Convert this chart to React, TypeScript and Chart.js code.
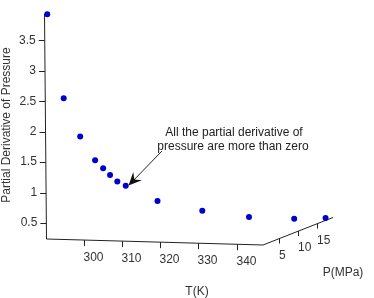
import { useEffect, useRef } from 'react';
import { Chart, registerables } from 'chart.js';

Chart.register(...registerables);

// Projected temperature position (K) of each point along the T axis
const tProjected = [290.5, 294.8, 299.1, 303.0, 305.1, 306.9, 308.8, 311.0, 319.3, 331.0, 343.2, 355.0, 363.2];
// Partial derivative of pressure
const derivative = [3.93, 2.55, 1.92, 1.53, 1.40, 1.29, 1.18, 1.11, 0.86, 0.70, 0.60, 0.57, 0.58];
const yTicks = [0.5, 1, 1.5, 2, 2.5, 3, 3.5];
const tTicks = [300, 310, 320, 330, 340];
const pTicks = [5, 10, 15];
const yTitle = 'Partial Derivative of Pressure';
const tTitle = 'T(K)';
const pTitle = 'P(MPa)';
const noteLines = ['All the partial derivative of', 'pressure are more than zero'];

const FONT = '12px "Liberation Sans", Arial, sans-serif';

const axesPlugin = {
  id: 'axes3d',
  beforeDatasetsDraw(chart: any) {
    const { ctx, chartArea, scales } = chart;
    const xs = scales.x;
    const ys = scales.y;
    const top = chartArea.top;
    const bottom = chartArea.bottom;
    const axTop = 44.5;
    const axBot = 46.5;
    const tEndX = 263;
    const tEndY = 245;
    const pEndX = 333;
    const pEndY = 217.5;
    const tLineY = (x: number) => bottom + (x - axBot) * ((tEndY - bottom) / (tEndX - axBot));
    const pLineY = (x: number) => tEndY + (x - tEndX) * ((pEndY - tEndY) / (pEndX - tEndX));
    ctx.save();
    ctx.strokeStyle = '#222';
    ctx.lineWidth = 1;
    ctx.beginPath();
    ctx.moveTo(axTop, top);
    ctx.lineTo(axBot, bottom);
    ctx.lineTo(tEndX, tEndY);
    ctx.lineTo(pEndX, pEndY);
    ctx.stroke();

    ctx.font = FONT;
    ctx.fillStyle = '#333';
    // y ticks
    ctx.textAlign = 'right';
    ctx.textBaseline = 'middle';
    yTicks.forEach((v) => {
      const py = ys.getPixelForValue(v);
      const ax = axTop + ((py - top) / (bottom - top)) * (axBot - axTop);
      ctx.beginPath();
      ctx.moveTo(ax - 6, Math.round(py) + 0.5);
      ctx.lineTo(ax, Math.round(py) + 0.5);
      ctx.stroke();
      ctx.fillText(String(v), ax - 9, py);
    });
    // T ticks
    ctx.textAlign = 'left';
    tTicks.forEach((t) => {
      const px = Math.round(xs.getPixelForValue(t)) + 0.5;
      const ly = tLineY(px);
      ctx.beginPath();
      ctx.moveTo(px, ly);
      ctx.lineTo(px, ly + 6);
      ctx.stroke();
      ctx.fillText(String(t), px - 1, ly + 17.5);
    });
    // P ticks
    pTicks.forEach((p) => {
      const px = Math.round(260 + 3.8 * p) + 0.5;
      const ly = pLineY(px);
      ctx.beginPath();
      ctx.moveTo(px, ly);
      ctx.lineTo(px, ly + 5);
      ctx.stroke();
      ctx.fillText(String(p), px - 0.5, ly + 17);
    });
    // titles
    ctx.textAlign = 'center';
    ctx.fillText(tTitle, 197, 292);
    ctx.fillText(pTitle, 343, 273);
    ctx.save();
    ctx.translate(7, 125);
    ctx.rotate(-Math.PI / 2);
    ctx.fillText(yTitle, 0, 0);
    ctx.restore();
    // note
    ctx.fillStyle = '#222';
    ctx.fillText(noteLines[0], 234, 133);
    ctx.fillText(noteLines[1], 233, 147);
    ctx.restore();
  },
  afterDatasetsDraw(chart: any) {
    const { ctx } = chart;
    const x0 = 162, y0 = 151, x1 = 128.5, y1 = 185.5;
    const ang = Math.atan2(y1 - y0, x1 - x0);
    ctx.save();
    ctx.strokeStyle = '#222';
    ctx.fillStyle = '#111';
    ctx.lineWidth = 1;
    ctx.beginPath();
    ctx.moveTo(x0, y0);
    ctx.lineTo(x1 + 7 * Math.cos(ang + Math.PI), y1 + 7 * Math.sin(ang + Math.PI));
    ctx.stroke();
    const L = 13, W = 6;
    const bx = x1 - L * Math.cos(ang), by = y1 - L * Math.sin(ang);
    const nx = -Math.sin(ang), ny = Math.cos(ang);
    const mx = x1 - 0.65 * L * Math.cos(ang), my = y1 - 0.65 * L * Math.sin(ang);
    ctx.beginPath();
    ctx.moveTo(x1, y1);
    ctx.lineTo(bx + nx * W, by + ny * W);
    ctx.lineTo(mx, my);
    ctx.lineTo(bx - nx * W, by - ny * W);
    ctx.closePath();
    ctx.fill();
    ctx.restore();
  },
};

export default function App() {
  const ref = useRef<HTMLCanvasElement>(null);
  useEffect(() => {
    if (!ref.current) return;
    const chart = new Chart(ref.current, {
      type: 'scatter',
      data: {
        datasets: [
          {
            data: tProjected.map((t, i) => ({ x: t, y: derivative[i] })),
            backgroundColor: '#0000CD',
            borderColor: '#0000CD',
            pointRadius: 3,
            pointBorderWidth: 0,
            clip: false as any,
          },
        ],
      },
      options: {
        responsive: false,
        animation: false,
        devicePixelRatio: 1,
        layout: { padding: { left: 44, top: 14, right: 0, bottom: 59 } },
        plugins: { legend: { display: false }, tooltip: { enabled: false } },
        scales: {
          x: { type: 'linear', display: false, min: 289.65, max: 374.81 },
          y: { type: 'linear', display: false, min: 0.2366, max: 3.933 },
        },
      },
      plugins: [axesPlugin],
    });
    return () => chart.destroy();
  }, []);
  return (
    <div style={{ position: 'fixed', left: 0, top: 0, width: 374, height: 298, background: '#fff' }}>
      <canvas ref={ref} width={374} height={298} style={{ display: 'block' }} />
    </div>
  );
}
